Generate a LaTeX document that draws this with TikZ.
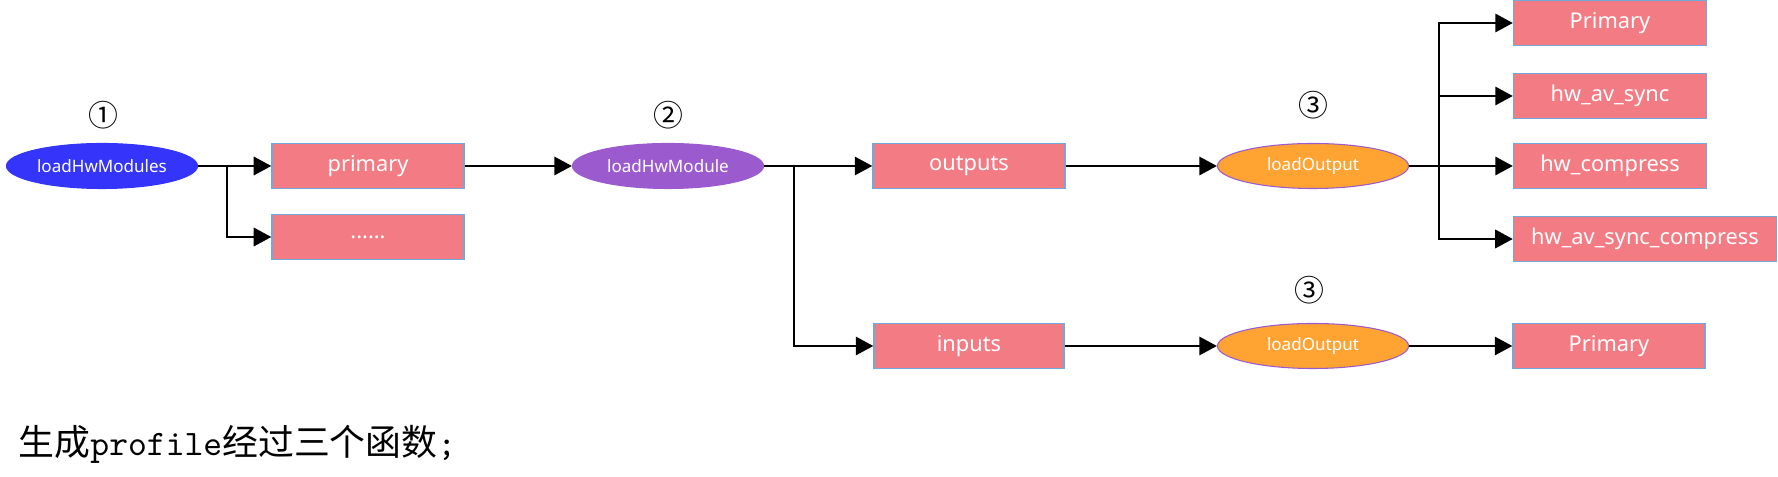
\documentclass[tikz,border=0pt]{standalone}
\usepackage{fontspec}
\usetikzlibrary{arrows.meta,shapes.geometric}
\newfontfamily\cjk{Noto Sans CJK SC}
\newfontfamily\boxfont{Noto Sans}
\definecolor{boxred}{RGB}{243,123,132}
\definecolor{boxline}{RGB}{110,170,220}
\definecolor{funcblue}{RGB}{52,52,250}
\definecolor{funcpurple}{RGB}{155,90,206}
\definecolor{funcorange}{RGB}{255,163,50}
\tikzset{
  item/.style={draw=boxline, line width=.35pt, fill=boxred, text=white,
    minimum width=1.92cm, minimum height=.45cm, inner sep=0pt,
    font=\boxfont\fontsize{6.2pt}{7pt}\selectfont},
  func/.style={ellipse, line width=.3pt, text=white, inner sep=0pt,
    minimum width=1.91cm, minimum height=.45cm,
    font=\boxfont\fontsize{4.85pt}{6pt}\selectfont},
  stage/.style={font=\cjk\fontsize{8.5pt}{9pt}\selectfont},
  link/.style={line width=.7pt, -{Triangle[length=5pt, width=5.2pt]}},
  wire/.style={line width=.7pt}
}
\begin{document}
\begin{tikzpicture}[x=.01cm, y=-.01cm]
  \useasboundingbox (0,0) rectangle (1778,477);
  %%functions
  \node[func, draw=funcblue, fill=funcblue] (hwmods) at (102,166) {loadHwModules};
  \node[func, draw=funcpurple, fill=funcpurple] (hwmod) at (668,166) {loadHwModule};
  \node[func, draw=funcpurple, fill=funcorange] (outload) at (1313,166) {loadOutput};
  \node[func, draw=funcpurple, fill=funcorange] (inload) at (1313,346) {loadOutput};
  \node[stage] (one) at (103,115) {①};
  \node[stage] (two) at (668,115) {②};
  \node[stage] (three) at (1313,105) {③};
  \node[stage] (threeb) at (1309,290) {③};
  %%modules
  \node[item] (primary) at (368,166) {primary};
  \node[item] (more) at (368,237) {......};
  %%profiles
  \node[item] (outputs) at (969,166) {outputs};
  \node[item, minimum width=1.90cm] (inputs) at (969,346) {inputs};
  %%output profiles
  \node[item, minimum width=1.93cm] (outprim) at (1610,23) {Primary};
  \node[item, minimum width=1.93cm] (avsync) at (1610,96) {hw\_av\_sync};
  \node[item, minimum width=1.93cm] (compress) at (1610,166) {hw\_compress};
  \node[item, minimum width=2.63cm] (avcomp) at (1645,239) {hw\_av\_sync\_compress};
  \node[item] (inprim) at (1609,346) {Primary};
  %%text
  \node[anchor=west, inner sep=0pt, font=\fontsize{10.2pt}{12pt}\selectfont] (note) at (18,444)
    {{\cjk 生成}{\ttfamily profile}{\cjk 经过三个函数}{\ttfamily ;}};

  %%step 1
  \coordinate (fork1) at (227,166);
  \draw[link] (hwmods) -- (primary);
  \draw[link] (fork1) |- (more);
  %%step 2
  \coordinate (fork2) at (794,166);
  \draw[link] (primary) -- (hwmod);
  \draw[link] (hwmod) -- (outputs);
  \draw[link] (fork2) |- (inputs);
  %%step 3
  \coordinate (fork3) at (1439,166);
  \draw[link] (outputs) -- (outload);
  \draw[link] (outload) -- (compress);
  \draw[link] (fork3) |- (outprim);
  \draw[link] (fork3) |- (avsync);
  \draw[link] (fork3) |- (avcomp);
  \draw[link] (inputs) -- (inload);
  \draw[link] (inload) -- (inprim);
\end{tikzpicture}
\end{document}
